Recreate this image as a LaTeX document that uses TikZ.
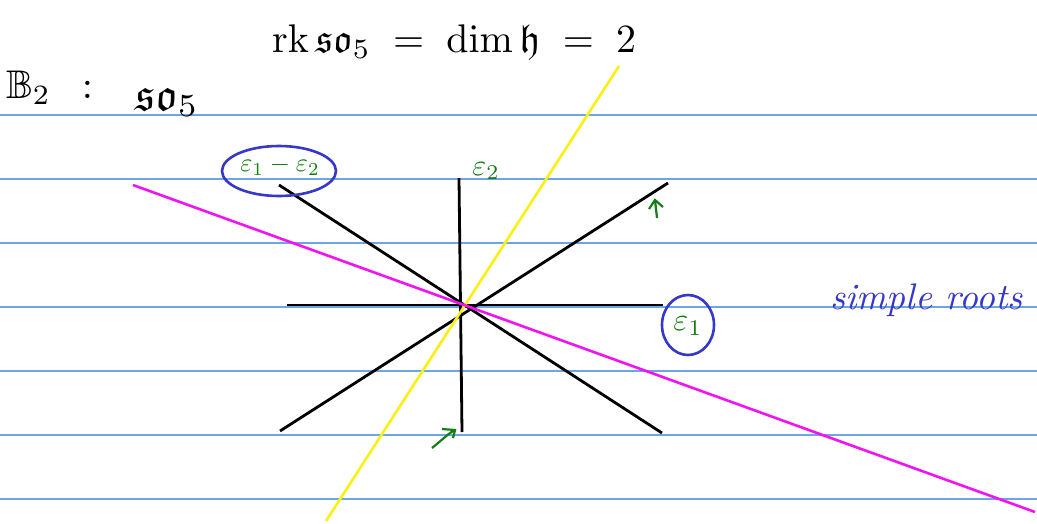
\documentclass[tikz,border=0pt]{standalone}
\usepackage{amsfonts}
\usepackage{graphicx}
\begin{document}
\begin{tikzpicture}[x=1pt,y=-1pt,
  rule/.style={draw=rulecol,line width=1.1pt},
  root/.style={draw=black,line width=2.8pt},
  ink/.style={text=inkgreen},
  circ/.style={draw=inkblue,line width=2.6pt},
  note/.style={text=black,inner sep=0pt}]
\definecolor{rulecol}{RGB}{110,165,230}
\definecolor{inkgreen}{RGB}{20,125,20}
\definecolor{inkblue}{RGB}{55,55,200}
\definecolor{mag}{RGB}{240,20,240}
\definecolor{yel}{RGB}{250,240,20}
\useasboundingbox (0,0) rectangle (1037,523);
\fill[white] (0,0) rectangle (1037,523);
% ruled lines
\foreach \y [count=\i] in {115,179,243,307,371,435,499}
  \draw[rule] (0,\y) coordinate (l\i) -- (1037,\y) coordinate (r\i);
% root system
\coordinate (O) at (461,305);
\coordinate (e1) at (663,305);
\coordinate (me1) at (287,305);
\coordinate (e2) at (459,178);
\coordinate (me2) at (462,432);
\coordinate (d1) at (279,185);
\coordinate (md1) at (662,433);
\coordinate (d2) at (668,183);
\coordinate (md2) at (280,431);
\draw[root] (me1) -- (e1);
\draw[root] (e2) -- (me2);
\draw[root] (d1) -- (md1);
\draw[root] (d2) -- (md2);
% yellow and magenta lines
\coordinate (y1) at (619,66);
\coordinate (y2) at (326,521);
\coordinate (m1) at (133,185);
\coordinate (m2) at (1035,512);
\draw[yel,line width=2.6pt] (y1) -- (y2);
\draw[mag,line width=2.6pt] (m1) -- (m2);
% texts
\node[note,anchor=base west] (rk) at (272,52) {\scalebox{4}{$\mathrm{rk}\,\mathfrak{so}_5 \;=\; \dim\mathfrak{h} \;=\; 2$}};
\node[note,anchor=base west] (B2) at (6,98) {\scalebox{4}{$\mathbb{B}_2\hspace{5pt}:$}};
\node[note,anchor=base west] (so5) at (135,110) {\scalebox{4.6}{$\mathfrak{so}_5$}};
\node[ink] (t12) at (280,166) {\scalebox{2.6}{$\varepsilon_1-\varepsilon_2$}};
\draw[circ] (279,171) ellipse (57 and 25);
\node[ink] (t2) at (486,171) {\scalebox{3}{$\varepsilon_2$}};
\node[ink] (t1) at (688,326) {\scalebox{3.2}{$\varepsilon_1$}};
\draw[circ] (688,325) ellipse (26 and 30);
\node[text=inkblue,anchor=base west,inner sep=0pt] (sr) at (830,309) {\scalebox{3.7}{\itshape simple roots}};
% green arrows
\coordinate (a1s) at (657,218);
\coordinate (a1e) at (655,200);
\draw[inkgreen,line width=2.2pt] (a1s) -- (a1e);
\draw[inkgreen,line width=2.2pt] (649,209) -- (a1e) -- (663,207);
\coordinate (a2s) at (432,448);
\coordinate (a2e) at (455,430);
\draw[inkgreen,line width=2.2pt] (a2s) .. controls (442,440) and (450,432) .. (a2e);
\draw[inkgreen,line width=2.2pt] (442,429) -- (a2e) -- (453,438);
\end{tikzpicture}
\end{document}
